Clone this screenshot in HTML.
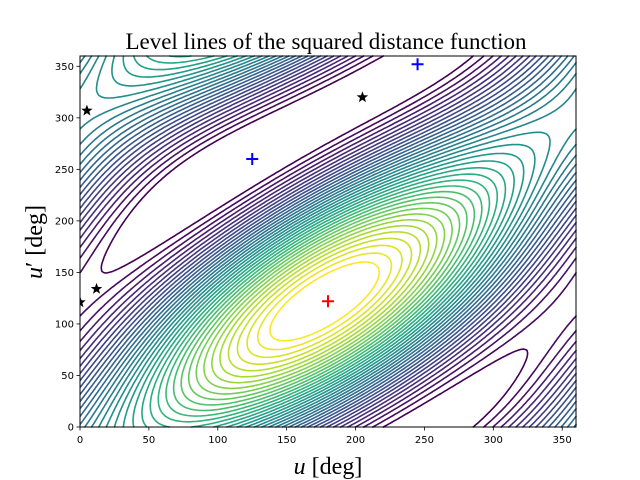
<!DOCTYPE html>
<html><head><meta charset="utf-8">
<style>
html,body{margin:0;padding:0;background:#fff;}
svg{display:block;}
.tk{font-family:"DejaVu Sans","Liberation Sans",sans-serif;font-size:10px;fill:#000;}
</style></head>
<body>
<svg id="chart" width="640" height="480" viewBox="0 0 640 480" xmlns="http://www.w3.org/2000/svg">
<rect width="640" height="480" fill="#fff"/>
<text x="326" y="49" text-anchor="middle" font-family="Liberation Serif, serif" font-size="23">Level lines of the squared distance function</text>
<g id="plot"></g>
<g id="axes"></g>
<text x="328" y="474" text-anchor="middle" font-family="Liberation Serif, serif" font-size="24"><tspan font-style="italic">u</tspan> [deg]</text>
<text transform="translate(42,242) rotate(-90)" text-anchor="middle" font-family="Liberation Serif, serif" font-size="24"><tspan font-style="italic">u</tspan>′ [deg]</text>
</svg>
<script>
const xTicks = [0,50,100,150,200,250,300,350];
const yTicks = [0,50,100,150,200,250,300,350];
const coefA = [1.0, 55];     // amplitude, phase of cos(u-u'-phase)
const coefC = [0.32, 180];   // cos(u-phase)
const coefD = [0.42, 120];   // cos(u'-phase)
const coefB = [0.0, 140];    // cos(u+u'-phase)
const levelCount = [38];
const starsU = [5, 12, 205, 0];
const starsV = [307, 134, 320, 121];
const blueU = [125, 245];
const blueV = [260, 352];
const redU = [180];
const redV = [122];

const NS='http://www.w3.org/2000/svg';
const X0=80,X1=576,Y0=427,Y1=56;
const sx=u=>X0+u*(X1-X0)/360;
const sy=v=>Y0-v*(Y0-Y1)/360;
const R=Math.PI/180;
function f(u,v){
  return coefA[0]*Math.cos((u-v-coefA[1])*R)+coefC[0]*Math.cos((u-coefC[1])*R)
   +coefD[0]*Math.cos((v-coefD[1])*R)+coefB[0]*Math.cos((u+v-coefB[1])*R);
}
const vir=[[68,1,84],[72,40,120],[62,73,137],[49,104,142],[38,130,142],[31,158,137],[53,183,121],[109,205,89],[180,222,44],[253,231,37]];
function viridis(t){t=Math.max(0,Math.min(1,t));const p=t*(vir.length-1),i=Math.min(vir.length-2,Math.floor(p)),fr=p-i;
  const c=vir[i].map((a,k)=>Math.round(a+(vir[i+1][k]-a)*fr));return `rgb(${c[0]},${c[1]},${c[2]})`;}
const N=180, st=360/N;
const Z=[];let mn=1e9,mx=-1e9;
for(let i=0;i<=N;i++){Z.push([]);for(let j=0;j<=N;j++){const z=f(i*st,j*st);Z[i].push(z);mn=Math.min(mn,z);mx=Math.max(mx,z);}}
let sad=-1e9;
for(let u=0;u<360;u+=2){let m=1e9;for(let w=-60;w<=60;w+=1){m=Math.min(m,f(u,u-coefA[1]+180+w));}sad=Math.max(sad,m);}
const plot=document.getElementById('plot');
const L=levelCount[0];
const lo=sad-(mx-mn)*0.012, hi=mx-(mx-mn)*0.05;
for(let k=0;k<L;k++){
  const lev=lo+(hi-lo)*k/(L-1);
  let d='';
  for(let i=0;i<N;i++)for(let j=0;j<N;j++){
    const u0=i*st,v0=j*st,u1=u0+st,v1=v0+st;
    const a=Z[i][j],b=Z[i+1][j],c=Z[i+1][j+1],e=Z[i][j+1];
    const pts=[];
    const ed=(za,zb,pa,pb)=>{if((za<lev)!==(zb<lev)){const t=(lev-za)/(zb-za);pts.push([pa[0]+(pb[0]-pa[0])*t,pa[1]+(pb[1]-pa[1])*t]);}};
    ed(a,b,[u0,v0],[u1,v0]);ed(b,c,[u1,v0],[u1,v1]);ed(c,e,[u1,v1],[u0,v1]);ed(e,a,[u0,v1],[u0,v0]);
    for(let p=0;p+1<pts.length;p+=2)d+=`M${sx(pts[p][0]).toFixed(1)} ${sy(pts[p][1]).toFixed(1)}L${sx(pts[p+1][0]).toFixed(1)} ${sy(pts[p+1][1]).toFixed(1)}`;
  }
  const path=document.createElementNS(NS,'path');
  path.setAttribute('d',d);path.setAttribute('fill','none');
  path.setAttribute('stroke',viridis(k/(L-1)));path.setAttribute('stroke-width','1.6');path.setAttribute('stroke-linecap','round');
  
  
  plot.appendChild(path);
}
function mk(tag,attrs){const e=document.createElementNS(NS,tag);for(const k in attrs)e.setAttribute(k,attrs[k]);return e;}
function starPath(cx,cy,r){let d='';for(let i=0;i<10;i++){const rr=i%2?r*0.42:r;const a=-Math.PI/2+i*Math.PI/5;d+=(i?'L':'M')+(cx+rr*Math.cos(a)).toFixed(1)+' '+(cy+rr*Math.sin(a)).toFixed(1);}return d+'Z';}
for(let i=0;i<starsU.length;i++){
  const s=mk('path',{d:starPath(sx(starsU[i]),sy(starsV[i]),6),fill:'#000'});
  
  
  plot.appendChild(s);
}
function cross(u,v,col,name){
  const x=sx(u),y=sy(v);
  const p=mk('path',{d:`M${x-6} ${y}H${x+6}M${x} ${y-6}V${y+6}`,stroke:col,'stroke-width':'2',fill:'none'});
  
  
  plot.appendChild(p);
}
for(let i=0;i<blueU.length;i++)cross(blueU[i],blueV[i],'#0000ff','blue-cross-marker');
for(let i=0;i<redU.length;i++)cross(redU[i],redV[i],'#ff0000','red-cross-marker');
const ax=document.getElementById('axes');
const wl=mk('rect',{x:0,y:56,width:79.5,height:372,fill:'#fff'});


ax.appendChild(wl);
const fr=mk('rect',{x:X0,y:Y1,width:X1-X0,height:Y0-Y1,fill:'none',stroke:'#000','stroke-width':'1'});


ax.appendChild(fr);
xTicks.forEach(t=>{
  const x=sx(t);
  const l=mk('line',{x1:x,x2:x,y1:Y0,y2:Y0+3.5,stroke:'#000','stroke-width':'0.8'});
  
  
  ax.appendChild(l);
  const tx=mk('text',{x:x,y:Y0+16,'text-anchor':'middle',class:'tk'});tx.textContent=t;
  
  
  ax.appendChild(tx);
});
yTicks.forEach(t=>{
  const y=sy(t);
  const l=mk('line',{x1:X0-3.5,x2:X0,y1:y,y2:y,stroke:'#000','stroke-width':'0.8'});
  
  
  ax.appendChild(l);
  const tx=mk('text',{x:X0-6,y:y+3.5,'text-anchor':'end',class:'tk'});tx.textContent=t;
  
  
  ax.appendChild(tx);
});
</script>
</body></html>
